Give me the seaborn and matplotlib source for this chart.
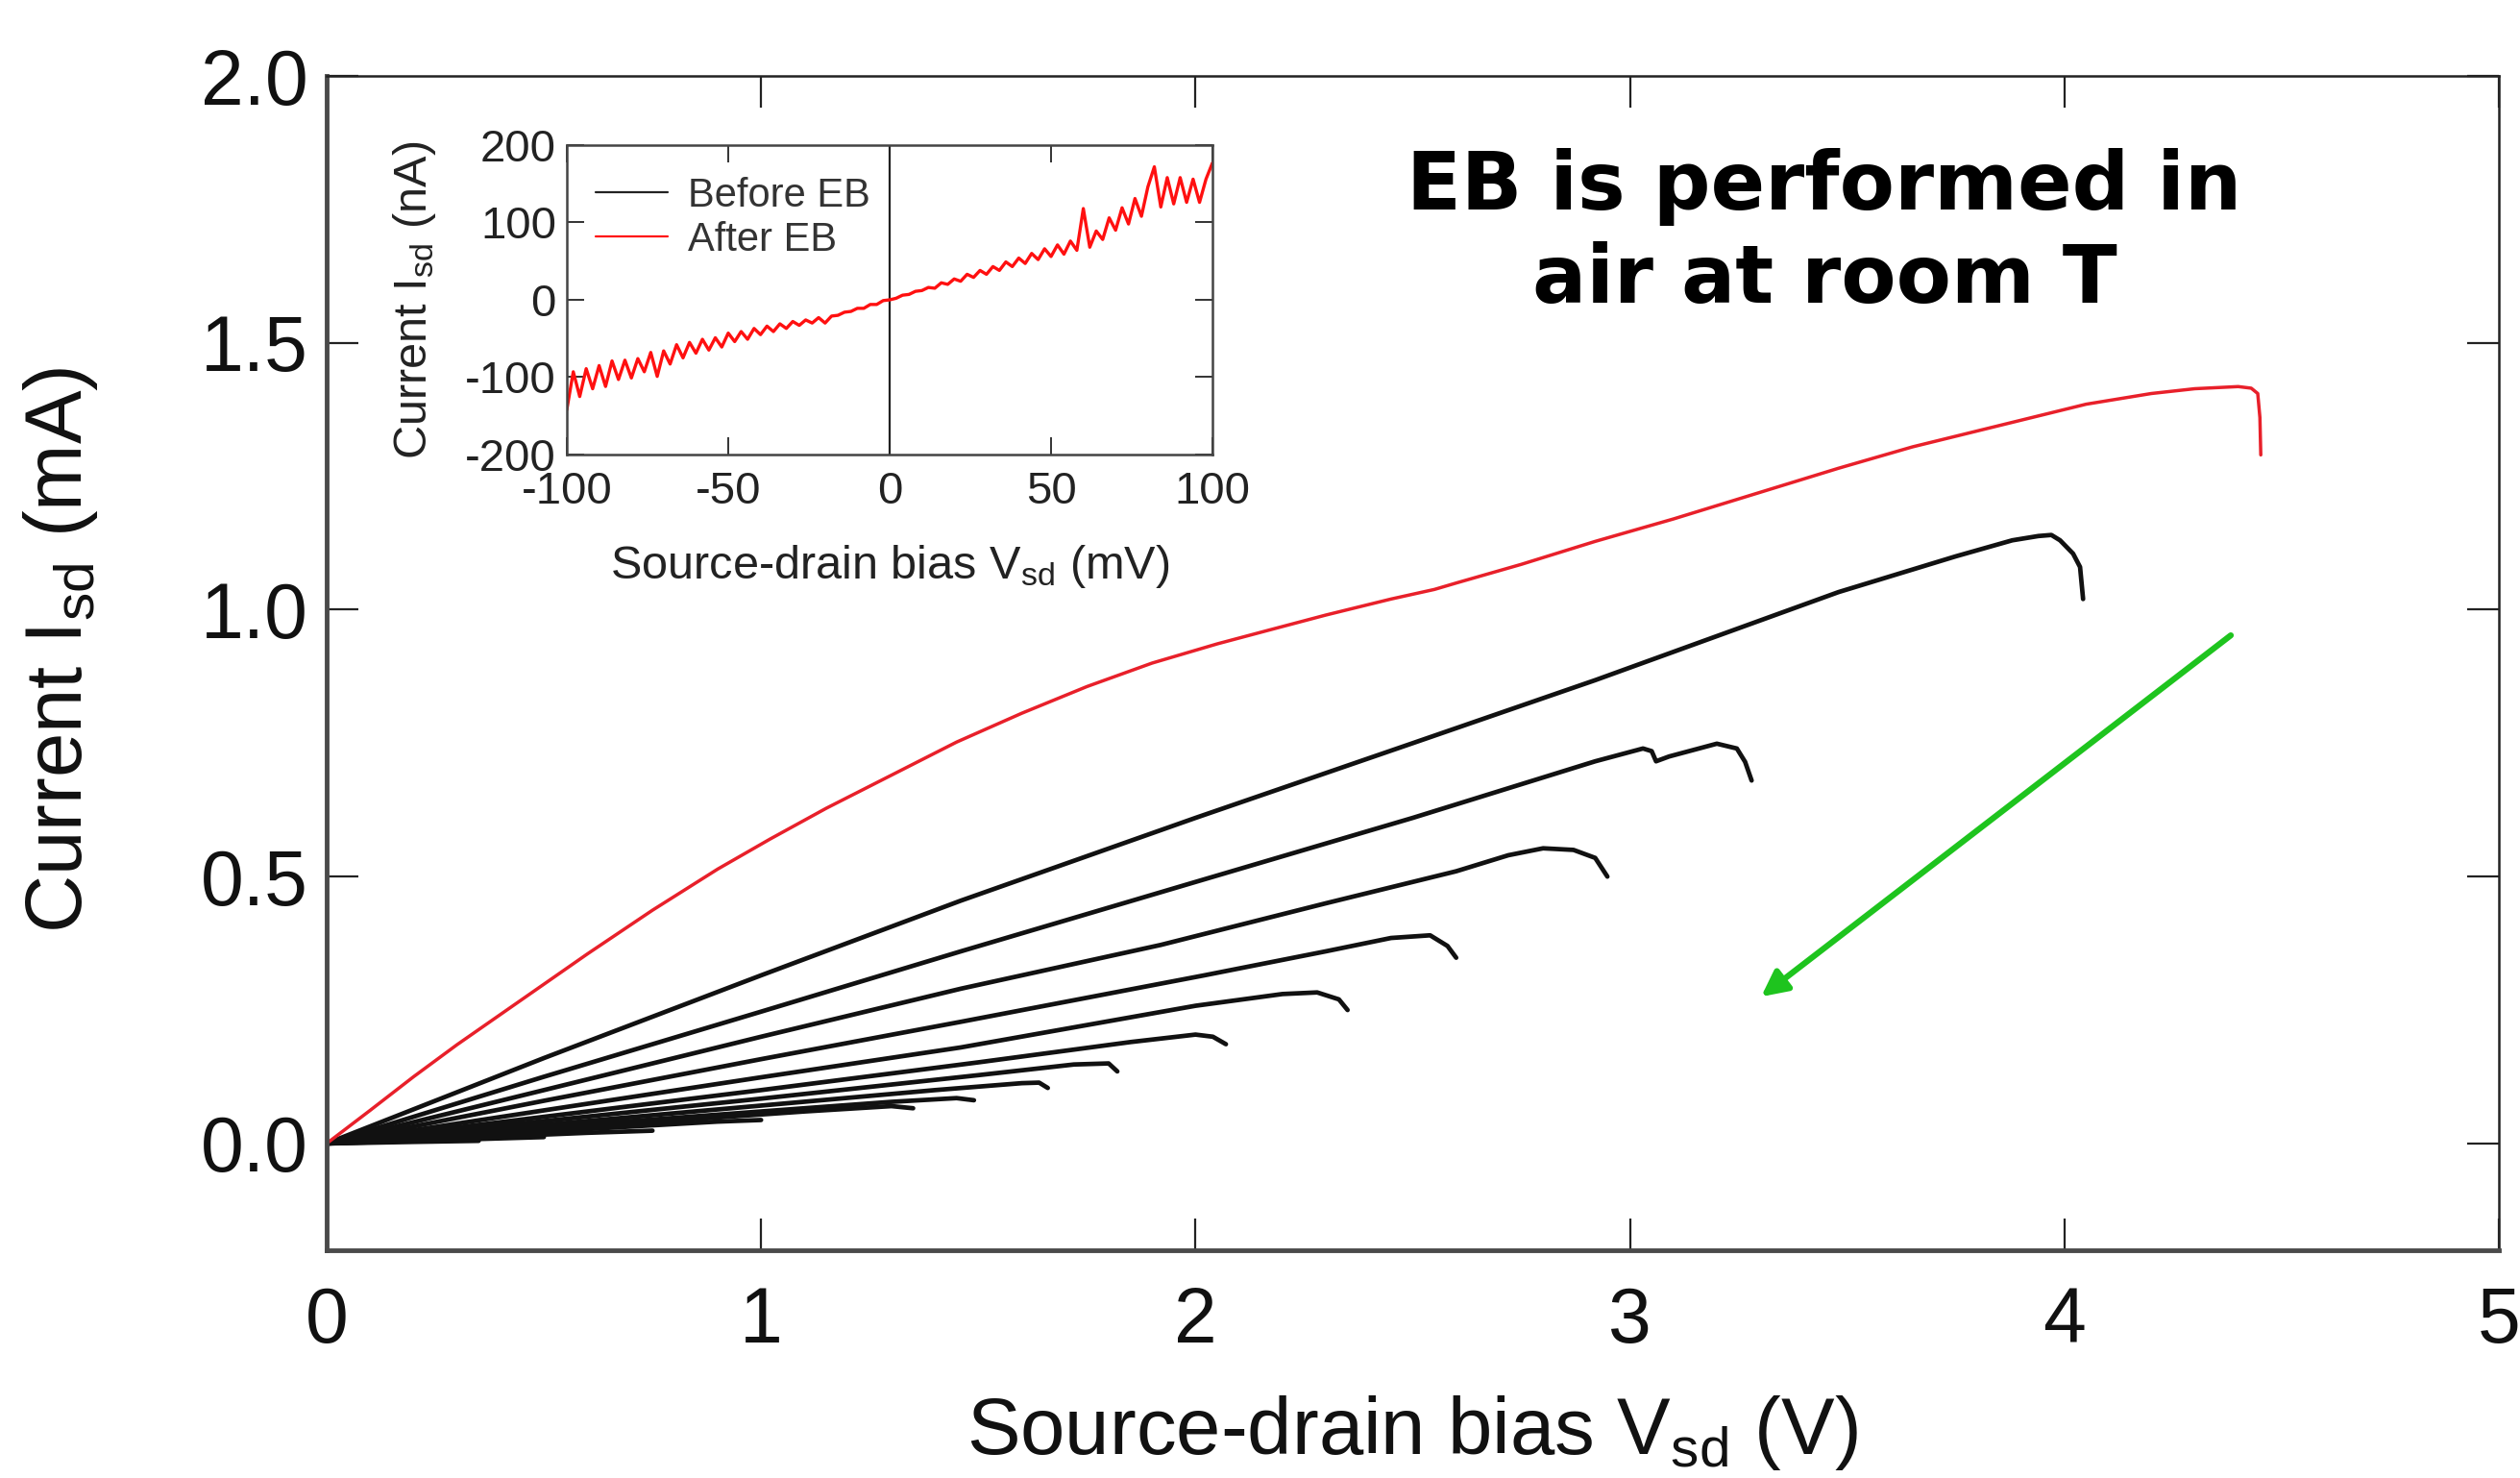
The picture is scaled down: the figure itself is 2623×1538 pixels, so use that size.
import matplotlib
matplotlib.use("Agg")
import matplotlib.pyplot as plt
import numpy as np
import pandas as pd
import seaborn as sns

# ---------------- data ----------------
# Main panel: After-EB sweep (red)
after_v = [0, 0.1, 0.2, 0.3, 0.45, 0.6, 0.75, 0.9, 1.02, 1.15, 1.3, 1.45, 1.6, 1.75, 1.9,
           2.05, 2.17, 2.3, 2.45, 2.55, 2.6, 2.75, 2.92, 3.1, 3.3, 3.48, 3.65, 3.85, 4.05,
           4.2, 4.3, 4.4, 4.43, 4.445, 4.45, 4.452]
after_i = [0, 0.062, 0.125, 0.185, 0.27, 0.355, 0.437, 0.514, 0.57, 0.628, 0.69, 0.752,
           0.806, 0.856, 0.9, 0.936, 0.962, 0.99, 1.02, 1.038, 1.05, 1.085, 1.128, 1.17,
           1.22, 1.265, 1.305, 1.345, 1.385, 1.405, 1.414, 1.418, 1.415, 1.405, 1.36, 1.29]

# Main panel: successive EB sweeps (black), from highest to lowest
b1_v = [0, 0.5, 1.0, 1.46, 2.0, 2.5, 2.92, 3.48, 3.75, 3.88, 3.94, 3.97, 3.99, 4.02, 4.036, 4.043]
b1_i = [0, 0.16, 0.315, 0.455, 0.61, 0.75, 0.868, 1.033, 1.1, 1.13, 1.138, 1.14, 1.13, 1.105, 1.08, 1.02]
b2_v = [0, 0.5, 1.0, 1.46, 2.0, 2.5, 2.92, 3.03, 3.05, 3.06, 3.09, 3.2, 3.246, 3.265, 3.28]
b2_i = [0, 0.125, 0.247, 0.36, 0.49, 0.61, 0.716, 0.74, 0.735, 0.716, 0.725, 0.749, 0.74, 0.715, 0.68]
b3_v = [0, 0.5, 1.0, 1.46, 1.92, 2.3, 2.6, 2.72, 2.8, 2.87, 2.92, 2.948]
b3_i = [0, 0.1, 0.2, 0.29, 0.372, 0.45, 0.51, 0.54, 0.553, 0.55, 0.535, 0.50]
b4_v = [0, 0.5, 1.0, 1.46, 2.02, 2.3, 2.45, 2.54, 2.58, 2.6]
b4_i = [0, 0.08, 0.158, 0.228, 0.315, 0.36, 0.385, 0.39, 0.37, 0.348]
b5_v = [0, 0.5, 1.0, 1.46, 2.0, 2.2, 2.28, 2.33, 2.35]
b5_i = [0, 0.062, 0.124, 0.18, 0.258, 0.28, 0.283, 0.27, 0.25]
b6_v = [0, 0.5, 1.0, 1.5, 1.85, 2.0, 2.04, 2.07]
b6_i = [0, 0.05, 0.1, 0.152, 0.19, 0.204, 0.2, 0.186]
b7_v = [0, 0.5, 1.0, 1.5, 1.72, 1.80, 1.82]
b7_i = [0, 0.042, 0.084, 0.128, 0.148, 0.15, 0.135]
b8_v = [0, 0.5, 1.0, 1.4, 1.6, 1.64, 1.66]
b8_i = [0, 0.035, 0.071, 0.1, 0.113, 0.114, 0.104]
b9_v = [0, 0.5, 1.0, 1.3, 1.45, 1.49]
b9_i = [0, 0.03, 0.06, 0.078, 0.085, 0.081]
b10_v = [0, 0.4, 0.8, 1.1, 1.3, 1.35]
b10_i = [0, 0.021, 0.043, 0.06, 0.07, 0.066]
b11_v = [0, 0.3, 0.6, 0.9, 1.0]
b11_i = [0, 0.013, 0.027, 0.041, 0.044]
b12_v = [0, 0.3, 0.6, 0.75]
b12_i = [0, 0.01, 0.02, 0.024]
b13_v = [0, 0.25, 0.5]
b13_i = [0, 0.006, 0.012]
b14_v = [0, 0.2, 0.4]
b14_i = [0, 0.012, 0.024]
b15_v = [0, 0.2, 0.35]
b15_i = [0, 0.003, 0.005]

# Inset: low-bias sweeps (mV, nA)
inset_before_v = [0, 0]
inset_before_i = [-200, 200]
inset_after_v = list(range(-100, 101, 2))
inset_after_i = [-142, -93, -125, -89, -115, -85, -112, -79, -103, -78,
                 -101, -76, -93, -68, -99, -66, -83, -58, -75, -55,
                 -69, -51, -65, -49, -61, -43, -54, -41, -51, -37,
                 -45, -34, -41, -31, -37, -28, -33, -26, -30, -23,
                 -30, -21, -20, -16, -15, -11, -11, -6, -6, -1,
                 0, 2, 6, 7, 11, 12, 16, 15, 22, 20,
                 27, 24, 33, 29, 38, 33, 43, 38, 49, 43,
                 54, 47, 60, 52, 66, 56, 71, 59, 76, 64,
                 118, 68, 89, 78, 106, 90, 119, 98, 131, 108,
                 146, 172, 120, 158, 124, 158, 126, 156, 126, 156,
                 177]

# Ticks / labels
main_xticks = [0, 1, 2, 3, 4, 5]
main_yticks = [0.0, 0.5, 1.0, 1.5, 2.0]
inset_xticks = [-100, -50, 0, 50, 100]
inset_yticks = [-200, -100, 0, 100, 200]
legend_labels = ["Before EB", "After EB"]
note_text = "EB is performed in\nair at room T"
arrow_start = [4.383, 0.952]
arrow_end = [3.302, 0.275]

black_sets = [(b1_v, b1_i), (b2_v, b2_i), (b3_v, b3_i), (b4_v, b4_i), (b5_v, b5_i),
              (b6_v, b6_i), (b7_v, b7_i), (b8_v, b8_i), (b9_v, b9_i), (b10_v, b10_i),
              (b11_v, b11_i), (b12_v, b12_i), (b13_v, b13_i), (b14_v, b14_i),
              (b15_v, b15_i)]
rows = []
for k, (vv, ii) in enumerate(black_sets):
    for v, i in zip(vv, ii):
        rows.append({"curve": k, "V": v, "I": i})
black_df = pd.DataFrame(rows)
after_df = pd.DataFrame({"V": after_v, "I": after_i})

# ---------------- style ----------------
sns.set_theme(style="ticks")
plt.rcParams["font.family"] = ["Liberation Sans", "DejaVu Sans"]
plt.rcParams["mathtext.default"] = "regular"
plt.rcParams["axes.unicode_minus"] = False

fig = plt.figure(figsize=(26.23, 15.38), dpi=100)
fig.patch.set_facecolor("white")

# ---------------- main axes ----------------
ax = fig.add_axes([0.12962, 0.15410, 0.86199, 0.79453])
sns.lineplot(data=black_df, x="V", y="I", units="curve", estimator=None, sort=False,
             color="#111111", lw=3.4, ax=ax, legend=False)
sns.lineplot(data=after_df, x="V", y="I", estimator=None, sort=False,
             color="#e8202a", lw=2.5, ax=ax, legend=False)

ax.set_xlim(0, 5)
ax.set_ylim(-0.2, 2.0)
ax.set_xticks(main_xticks)
ax.set_xticklabels([str(t) for t in main_xticks])
ax.set_yticks(main_yticks)
ax.set_yticklabels([f"{t:.1f}" for t in main_yticks])
ax.tick_params(axis="both", direction="in", top=True, right=True, length=24, width=1.6,
               color="#222222", labelsize=58, labelcolor="#111111")
ax.tick_params(axis="x", pad=27)
ax.tick_params(axis="y", pad=14)
for side in ["left", "bottom"]:
    ax.spines[side].set_linewidth(3.5)
    ax.spines[side].set_color("#4a4a4a")
for side in ["top", "right"]:
    ax.spines[side].set_linewidth(1.8)
    ax.spines[side].set_color("#222222")

ax.set_xlabel("Source-drain bias V$_{sd}$ (V)", fontsize=60, color="#111111")
ax.set_ylabel("Current I$_{sd}$ (mA)", fontsize=60, color="#111111")
ax.xaxis.set_label_coords(0.5, -0.122)
ax.yaxis.set_label_coords(-0.1044, 0.511)

ax.text(0.6895, 0.866, note_text, transform=ax.transAxes, ha="center", va="center",
        multialignment="center", fontsize=60, fontweight="bold",
        family=["DejaVu Sans"], color="black", linespacing=1.25)

ax.annotate("", xy=tuple(arrow_end), xytext=tuple(arrow_start),
            arrowprops=dict(arrowstyle="-|>", color="#1ec41e", lw=4.5,
                            mutation_scale=40, shrinkA=0, shrinkB=0))

# ---------------- inset ----------------
axi = fig.add_axes([0.22493, 0.69246, 0.25620, 0.20936])
sns.lineplot(x=inset_before_v, y=inset_before_i, estimator=None, sort=False,
             color="#222222", lw=1.6, ax=axi, label=legend_labels[0])
sns.lineplot(x=inset_after_v, y=inset_after_i, estimator=None, sort=False,
             color="#ff1010", lw=2.4, ax=axi, label=legend_labels[1])
axi.set_xlim(-100, 100)
axi.set_ylim(-200, 200)
axi.set_xticks(inset_xticks)
axi.set_xticklabels([str(t) for t in inset_xticks])
axi.set_yticks(inset_yticks)
axi.set_yticklabels([str(t) for t in inset_yticks])
axi.tick_params(axis="both", direction="in", top=True, right=True, length=13, width=1.4,
                color="#333333", labelsize=34, labelcolor="#222222")
axi.tick_params(axis="x", pad=12)
axi.tick_params(axis="y", pad=8)
for side in axi.spines:
    axi.spines[side].set_linewidth(1.8)
    axi.spines[side].set_color("#444444")
axi.set_xlabel("Source-drain bias V$_{sd}$ (mV)", fontsize=35, color="#222222")
axi.set_ylabel("Current I$_{sd}$ (nA)", fontsize=35, color="#222222")
axi.xaxis.set_label_coords(0.5, -0.285)
axi.yaxis.set_label_coords(-0.20, 0.5)
leg = axi.legend(loc="upper left", bbox_to_anchor=(0.02, 0.95), frameon=False,
                 fontsize=30, handlelength=1.8, handletextpad=0.5, borderaxespad=0,
                 labelspacing=0.15)
for line in leg.get_lines():
    line.set_linewidth(1.6)
for t in leg.get_texts():
    t.set_color("#333333")

fig.savefig("out.png", dpi=100, facecolor="white")
